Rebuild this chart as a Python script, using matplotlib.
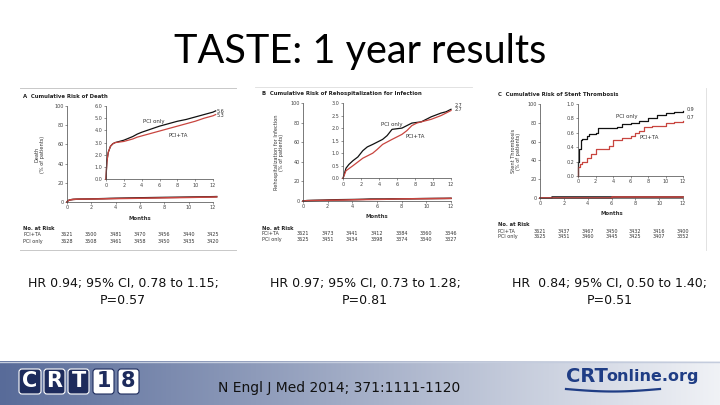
import numpy as np
import matplotlib
matplotlib.use("Agg")
import matplotlib.pyplot as plt
from matplotlib.transforms import blended_transform_factory
from matplotlib.patches import FancyBboxPatch

W, H = 720, 405

# ---------------- data ----------------
# Panel A: cumulative risk of death (%)
a_t_pci = [0, 0.05, 0.1, 0.25, 0.5, 0.75, 1, 1.5, 2, 2.5, 3, 3.5, 4, 5, 6, 7, 8, 9, 10, 11, 12, 12.3]
a_v_pci = [0, 0.8, 1.5, 2.2, 2.7, 2.9, 3.0, 3.1, 3.2, 3.35, 3.5, 3.7, 3.85, 4.1, 4.35, 4.55, 4.75, 4.9, 5.1, 5.3, 5.5, 5.6]
a_t_ta = [0, 0.05, 0.1, 0.25, 0.5, 0.75, 1, 1.5, 2, 2.5, 3, 3.5, 4, 5, 6, 7, 8, 9, 10, 11, 12, 12.3]
a_v_ta = [0, 0.8, 1.4, 2.2, 2.7, 2.9, 3.0, 3.05, 3.1, 3.2, 3.3, 3.45, 3.55, 3.75, 3.95, 4.15, 4.35, 4.55, 4.75, 5.0, 5.2, 5.3]
a_risk_ta = ["3621", "3500", "3481", "3470", "3456", "3440", "3425"]
a_risk_pci = ["3628", "3508", "3461", "3458", "3450", "3435", "3420"]
a_ticks_main = [0, 2, 4, 6, 8, 10, 12]

# Panel B: rehospitalization for infection (%)
b_t_pci = [0, 0.33, 0.65, 1.1, 1.65, 2.2, 2.7, 3.3, 4.4, 4.9, 5.45, 6.55, 7.1, 7.65, 8.7, 9.8, 10.9, 11.45, 12]
b_v_pci = [0, 0.4, 0.55, 0.7, 0.85, 1.1, 1.25, 1.35, 1.55, 1.7, 1.95, 2.0, 2.1, 2.2, 2.25, 2.45, 2.6, 2.65, 2.75]
b_t_ta = [0, 0.33, 1.1, 1.65, 2.2, 3.3, 3.8, 4.4, 5.45, 6.55, 7.1, 7.65, 8.2, 8.7, 9.8, 10.9, 12]
b_v_ta = [0, 0.3, 0.5, 0.65, 0.8, 1.0, 1.15, 1.35, 1.55, 1.75, 1.9, 2.1, 2.2, 2.25, 2.35, 2.5, 2.7]
b_risk_ta = ["3621", "3473", "3441", "3412", "3384", "3360", "3346"]
b_risk_pci = ["3625", "3451", "3434", "3398", "3374", "3340", "3327"]
b_ticks_main = [0, 2, 4, 6, 8, 10, 12]

# Panel C: stent thrombosis (%)
c_t_pci = [0, 0.05, 0.15, 0.3, 0.5, 1, 1.2, 2.0, 2.3, 4.5, 5, 6, 7, 8, 9, 10, 11, 12]
c_v_pci = [0, 0.2, 0.38, 0.5, 0.52, 0.55, 0.58, 0.6, 0.67, 0.68, 0.72, 0.73, 0.77, 0.8, 0.85, 0.87, 0.89, 0.9]
c_t_ta = [0, 0.05, 0.2, 0.5, 1, 1.5, 2, 3.5, 4, 5, 6, 6.5, 7, 7.5, 8.5, 10, 11, 12]
c_v_ta = [0, 0.12, 0.17, 0.2, 0.25, 0.3, 0.37, 0.42, 0.5, 0.53, 0.56, 0.6, 0.62, 0.68, 0.7, 0.73, 0.75, 0.76]
c_risk_ta = ["3621", "3437", "3467", "3450", "3432", "3416", "3400"]
c_risk_pci = ["3625", "3451", "3460", "3445", "3425", "3407", "3352"]
c_ticks_main = [0, 2, 4, 6, 8, 10, 12]

hr_texts = ["HR 0.94; 95% CI, 0.78 to 1.15;\nP=0.57",
            "HR 0.97; 95% CI, 0.73 to 1.28;\nP=0.81",
            "HR  0.84; 95% CI, 0.50 to 1.40;\nP=0.51"]

RED = "#c8453f"
BLK = "#111111"
TXT = "#333333"

fig = plt.figure(figsize=(W / 100, H / 100), dpi=100)
fig.patch.set_facecolor("white")


def box(x0, y0, x1, y1):
    return [x0 / W, 1 - y1 / H, (x1 - x0) / W, (y1 - y0) / H]


def fx(x):
    return x / W


def fy(y):
    return 1 - y / H


def style(ax, fs=3.5):
    for s in ["top", "right"]:
        ax.spines[s].set_visible(False)
    for s in ["left", "bottom"]:
        ax.spines[s].set_linewidth(0.5)
        ax.spines[s].set_color("#444444")
    ax.tick_params(labelsize=fs, length=1.5, width=0.4, pad=1, colors="#444444")
    ax.set_facecolor("none")


def panel(title, mainbox, insetbox, xmax, xticks, ymax_in, yticks_in, fmt,
          t_pci, v_pci, t_ta, v_ta, lab_pci, lab_ta, end_pci, end_ta, endy,
          ylabel, ylab_x, risk_ta, risk_pci, rows_x, title_xy, months_y, risk_y, ds):
    ax = fig.add_axes(box(*mainbox))
    style(ax)
    ax.plot(t_pci, v_pci, drawstyle=ds, color=BLK, lw=1.1, clip_on=False)
    ax.plot(t_ta, v_ta, drawstyle=ds, color=RED, lw=1.1, clip_on=False)
    ax.set_xlim(0, xmax)
    ax.set_ylim(0, 100)
    ax.set_xticks(xticks)
    ax.set_yticks([0, 20, 40, 60, 80, 100])
    fig.text(fx(ylab_x), fy((mainbox[1] + mainbox[3]) / 2), ylabel, rotation=90,
             ha="center", va="center", fontsize=3.6, color=TXT, linespacing=1.1)
    fig.text(fx((mainbox[0] + mainbox[2]) / 2), fy(months_y), "Months",
             ha="center", va="center", fontsize=3.9, color=TXT, fontweight="bold")

    ai = fig.add_axes(box(*insetbox))
    style(ai)
    ai.plot(t_pci, v_pci, drawstyle=ds, color=BLK, lw=0.9, clip_on=False)
    ai.plot(t_ta, v_ta, drawstyle=ds, color=RED, lw=0.9, clip_on=False)
    ai.set_xlim(0, xmax)
    ai.set_ylim(0, ymax_in)
    ai.set_xticks(xticks)
    ai.set_yticks(yticks_in)
    ai.set_yticklabels([fmt.format(v) for v in yticks_in])
    ai.text(lab_pci[0], lab_pci[1], "PCI only", fontsize=3.9, color=TXT)
    ai.text(lab_ta[0], lab_ta[1], "PCI+TA", fontsize=3.9, color=TXT)
    ai.text(1.03, endy[0], end_pci, transform=ai.transAxes, fontsize=3.5, color=TXT, va="center")
    ai.text(1.03, endy[1], end_ta, transform=ai.transAxes, fontsize=3.5, color=TXT, va="center")

    fig.text(fx(title_xy[0]), fy(title_xy[1]), title, fontsize=3.9, color="#222222",
             va="center", fontweight="bold")

    tr = blended_transform_factory(ax.transData, fig.transFigure)
    fig.text(fx(rows_x), fy(risk_y[0]), "No. at Risk", fontsize=3.7, color="#222222",
             va="center", fontweight="bold")
    fig.text(fx(rows_x), fy(risk_y[1]), "PCI+TA", fontsize=3.5, color=TXT, va="center")
    fig.text(fx(rows_x), fy(risk_y[2]), "PCI only", fontsize=3.5, color=TXT, va="center")
    for xv, r1, r2 in zip(xticks, risk_ta, risk_pci):
        ax.text(xv, fy(risk_y[1]), r1, transform=tr, fontsize=3.5, color=TXT,
                ha="center", va="center")
        ax.text(xv, fy(risk_y[2]), r2, transform=tr, fontsize=3.5, color=TXT,
                ha="center", va="center")
    return ax, ai


panel("A  Cumulative Risk of Death", (67, 106, 213, 202), (106, 106, 213, 179.3),
      12, a_ticks_main, 6.0, [0, 1, 2, 3, 4, 5, 6], "{:.1f}",
      a_t_pci, a_v_pci, a_t_ta, a_v_ta, (4.2, 4.6), (7.0, 3.5), "5.6", "5.3",
      (0.93, 0.87), "Death\n(% of patients)", 40,
      a_risk_ta, a_risk_pci, 23, (23, 96), 218, (228, 234.5, 241), "default")

panel("B  Cumulative Risk of Rehospitalization for Infection", (303, 103, 451, 201),
      (343, 103, 451, 178.3), 12, b_ticks_main, 3.0, [0, 0.5, 1.0, 1.5, 2.0, 2.5, 3.0], "{:.1f}",
      b_t_pci, b_v_pci, b_t_ta, b_v_ta, (4.2, 2.1), (7.0, 1.6), "2.7", "2.7",
      (0.97, 0.91), "Rehospitalization for Infection\n(% of patients)", 279,
      b_risk_ta, b_risk_pci, 262, (262, 94), 216, (229, 234, 239.5), "default")

panel("C  Cumulative Risk of Stent Thrombosis", (540, 104, 683, 198), (578, 104, 683, 176),
      12, c_ticks_main, 1.0, [0, 0.2, 0.4, 0.6, 0.8, 1.0], "{:.1f}",
      c_t_pci, c_v_pci, c_t_ta, c_v_ta, (4.3, 0.8), (7.0, 0.51), "0.9", "0.7",
      (0.92, 0.81), "Stent Thrombosis\n(% of patients)", 516,
      c_risk_ta, c_risk_pci, 498, (498, 95), 214, (225, 231, 237), "steps-post")

# panel frame lines
fig.add_artist(plt.Line2D([fx(20), fx(236)], [fy(88), fy(88)], color="#c8c8c8", lw=0.7))
fig.add_artist(plt.Line2D([fx(20), fx(236)], [fy(250), fy(250)], color="#c8c8c8", lw=0.7))
fig.add_artist(plt.Line2D([fx(255), fx(472)], [fy(87), fy(87)], color="#dddddd", lw=0.6))
fig.add_artist(plt.Line2D([fx(706), fx(706)], [fy(88), fy(250)], color="#dddddd", lw=0.6))

# title
fig.text(0.5, fy(51), "TASTE: 1 year results", ha="center", va="center",
         fontsize=28.5, family="Lato", color="black")

# HR texts
for xc, t in zip([123, 365, 610], hr_texts):
    fig.text(fx(xc), fy(292), t, ha="center", va="center", fontsize=9,
             family="DejaVu Sans", color="#111111", linespacing=1.45)

# footer gradient
fax = fig.add_axes(box(0, 361, 720, 405))
grad = np.linspace(0, 1, 256)
c0 = np.array([0x58, 0x6b, 0x99]) / 255
c1 = np.array([0xf0, 0xf2, 0xf6]) / 255
img = (c0[None, :] * (1 - grad[:, None]) + c1[None, :] * grad[:, None])[None, :, :]
fax.imshow(img, aspect="auto", extent=[0, 720, 0, 44])
fax.set_xlim(0, 720)
fax.set_ylim(0, 44)
fax.axis("off")
fax.axhline(43.5, color="#c4ccdd", lw=1.0)

# CRT18 logo
NAVY = "#1d2b5c"
letters = ["C", "R", "T", "1", "8"]
xs = [(18, 42), (43, 66), (67, 90), (92, 115), (117, 140)]
for (x0, x1), L in zip(xs, letters):
    dark = L in "CRT"
    p = FancyBboxPatch((x0 + 1, 44 - (394 - 361)), x1 - x0 - 2, 25,
                       boxstyle="round,pad=0,rounding_size=3",
                       fc=NAVY if dark else "white", ec="white" if dark else NAVY, lw=0.8,
                       transform=fax.transData)
    fax.add_patch(p)
    fax.text((x0 + x1) / 2, 44 - (381 - 361), L, ha="center", va="center",
             fontsize=15, fontweight="bold", family="DejaVu Sans",
             color="white" if dark else NAVY)

# citation
fig.text(fx(218), fy(388), "N Engl J Med 2014; 371:1111-1120", ha="left", va="center",
         fontsize=10, family="DejaVu Sans", color="#111111")

# CRTonline.org logo
BLUE = "#1f3d85"
fig.text(fx(566), fy(377), "CRT", ha="left", va="center", fontsize=14, fontweight="bold",
         family="DejaVu Sans", color=BLUE)
fig.text(fx(606), fy(376), "online.org", ha="left", va="center", fontsize=11.5,
         fontweight="bold", family="DejaVu Sans", color=BLUE)
xx = np.linspace(566, 660, 50)
yy = 389 + 2.5 * np.sin((xx - 566) / 94 * np.pi)
fig.add_artist(plt.Line2D(fx(xx), fy(yy), color=BLUE, lw=1.6))

fig.savefig("out.png", dpi=100)
